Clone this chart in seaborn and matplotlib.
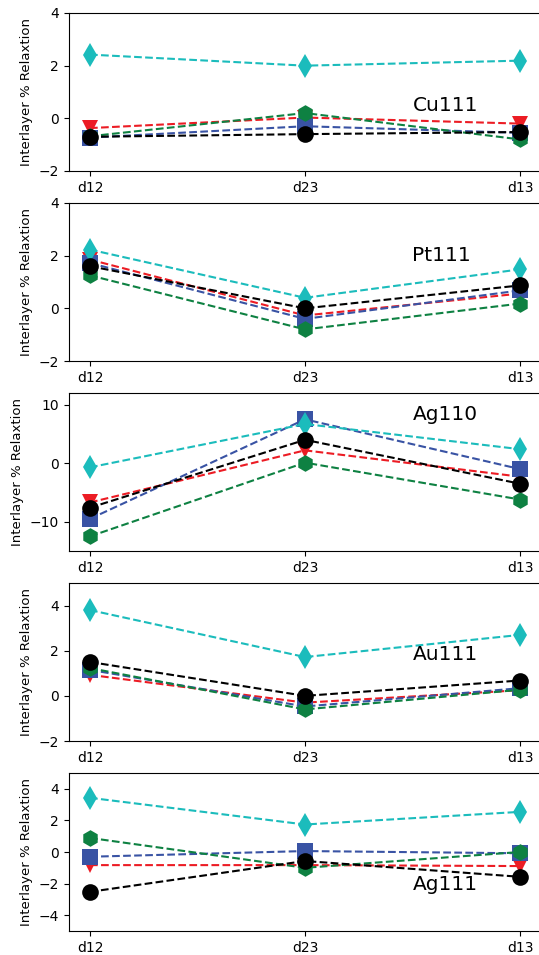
import matplotlib
matplotlib.use('Agg')
import matplotlib.pyplot as plt
import seaborn as sns

# Daten
layers = ['d12', 'd23', 'd13']
surfaces = ['Cu111', 'Pt111', 'Ag110', 'Au111', 'Ag111']

red = [[-0.37, 0.03, -0.2], [1.85, -0.27, 0.56], [-6.7, 2.2, -2.3], [0.93, -0.3, 0.25], [-0.83, -0.83, -0.89]]
blue = [[-0.73, -0.3, -0.55], [1.72, -0.4, 0.68], [-9.5, 7.5, -1.0], [1.15, -0.47, 0.34], [-0.3, 0.06, -0.08]]
green = [[-0.68, 0.2, -0.8], [1.25, -0.8, 0.18], [-12.5, 0.1, -6.2], [1.23, -0.6, 0.27], [0.89, -1.0, 0.0]]
cyan = [[2.42, 2.0, 2.19], [2.23, 0.4, 1.48], [-0.7, 6.7, 2.4], [3.8, 1.72, 2.7], [3.43, 1.74, 2.54]]
black = [[-0.7, -0.6, -0.52], [1.6, 0.0, 0.87], [-7.6, 4.0, -3.5], [1.5, 0.0, 0.68], [-2.52, -0.57, -1.57]]

ylims = [(-2, 4), (-2, 4), (-15, 12), (-2, 5), (-5, 5)]
yticks = [[-2, 0, 2, 4], [-2, 0, 2, 4], [-10, 0, 10], [-2, 0, 2, 4], [-4, -2, 0, 2, 4]]
label_y = [0.5, 2.0, 8.3, 1.82, -2.05]

series = [
    (red, '#ec1c24', 'v'),
    (blue, '#3953a4', 's'),
    (green, '#0e8142', 'h'),
    (cyan, '#1bbcbc', 'd'),
    (black, 'black', 'o'),
]

W, H = 539, 955
fig = plt.figure(figsize=(W / 100, H / 100), dpi=100)

for i, name in enumerate(surfaces):
    top = 13 + 190 * i
    ax = fig.add_axes([68.5 / W, 1 - (top + 158) / H, 473 / W, 158 / H])
    for vals, col, mk in series:
        sns.lineplot(x=layers, y=vals[i], ax=ax, color=col, marker=mk,
                     markersize=12, linestyle='--', linewidth=1.5,
                     markeredgewidth=0)
    ax.set_ylim(*ylims[i])
    ax.set_yticks(yticks[i])
    ax.set_xlim(-0.1, 2.1)
    ax.set_xlabel('')
    ax.set_ylabel('Interlayer % Relaxtion', fontsize=9.5)
    ax.tick_params(labelsize=10)
    ax.text(1.5, label_y[i], name, fontsize=14.5, va='center')

fig.savefig('out.png', dpi=100)
